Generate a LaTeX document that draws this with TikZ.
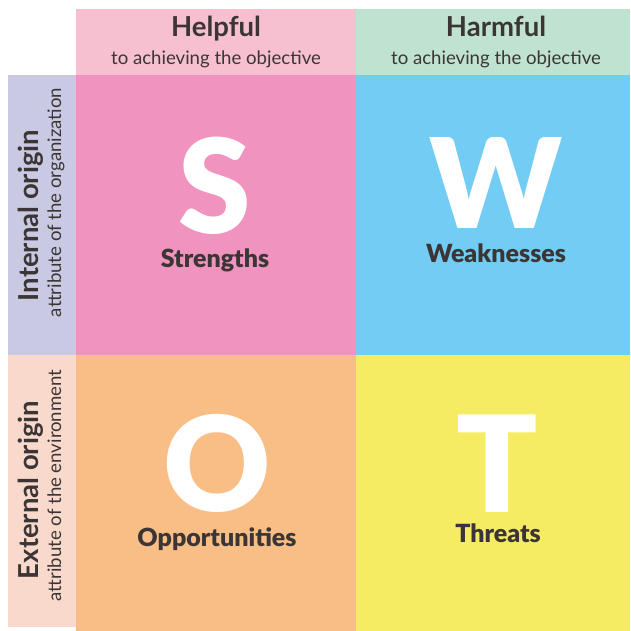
\documentclass[tikz,border=0pt]{standalone}
\usepackage{fontspec}
\setmainfont{Lato}
\newfontfamily\heavyfont{Lato}[UprightFont={* Black}]

% Palette
\definecolor{hdrpink}{HTML}{F6C0D0}
\definecolor{hdrgreen}{HTML}{C0E2D0}
\definecolor{sidelav}{HTML}{C9C9E3}
\definecolor{sidepeach}{HTML}{F9D9CB}
\definecolor{qpink}{HTML}{F093BF}
\definecolor{qblue}{HTML}{72CCF3}
\definecolor{qorange}{HTML}{F9BE86}
\definecolor{qyellow}{HTML}{F5EC63}
\definecolor{ink}{HTML}{3B3635}

\begin{document}
\begin{tikzpicture}[x=1pt,y=-1pt,
  cell/.style={anchor=north west, inner sep=0pt, outer sep=0pt, draw=none},
  bigletter/.style={anchor=base, inner sep=0pt, text=white, text depth=0pt,
    font=\fontsize{#1}{#1}\heavyfont},
  bigletter/.default=130,
  quadlabel/.style={anchor=base, inner sep=0pt, text=ink, text height=17pt,
    font=\fontsize{25}{26}\heavyfont},
  headtitle/.style={anchor=base, inner sep=0pt, text=ink,
    font=\fontsize{27.5}{28}\selectfont\bfseries},
  headsub/.style={anchor=base, inner sep=0pt, text=ink,
    font=\fontsize{18.6}{19}\selectfont},
]
\useasboundingbox (0,0) rectangle (630,631);

% Column headers
\node[cell, fill=hdrpink,  minimum width=280pt, minimum height=66pt] (helpbox) at (76,9) {};
\node[cell, fill=hdrgreen, minimum width=274pt, minimum height=66pt] (harmbox) at (356,9) {};

% Row headers
\node[cell, fill=sidelav,   minimum width=68pt, minimum height=280pt] (intbox) at (8,75) {};
\node[cell, fill=sidepeach, minimum width=68pt, minimum height=272pt] (extbox) at (8,355) {};

% Quadrants
\node[cell, fill=qpink,   minimum width=280pt, minimum height=280pt] (sbox) at (76,75) {};
\node[cell, fill=qblue,   minimum width=274pt, minimum height=280pt] (wbox) at (356,75) {};
\node[cell, fill=qorange, minimum width=280pt, minimum height=276pt] (obox) at (76,355) {};
\node[cell, fill=qyellow, minimum width=274pt, minimum height=276pt] (tbox) at (356,355) {};

% Header texts
\node[headtitle] (helpful) at (216,37) {Helpful};
\node[headsub]   (helpsub) at (216,65) {to achieving the objective};
\node[headtitle] (harmful) at (496,37) {Harmful};
\node[headsub]   (harmsub) at (496,65) {to achieving the objective};

% Side texts
\node[headtitle, rotate=90] (internal) at (38,215.5) {Internal origin};
\node[headsub,   rotate=90] (intsub)   at (61,202.5) {attribute of the organization};
\node[headtitle, rotate=90] (external) at (38,490) {External origin};
\node[headsub,   rotate=90] (extsub)   at (61,485.5) {attribute of the environment};

% Quadrant letters and labels
\node[bigletter=131] (sletter) at (215,233.5) {S};
\node[quadlabel] (strengths) at (215,267) {Strengths};
\node[bigletter=125] (wletter) at (496,228) {W};
\node[quadlabel] (weaknesses) at (496,262) {Weaknesses};
\node[bigletter=132] (oletter) at (217,511.5) {O};
\node[quadlabel] (opportunities) at (217,546) {Opportunities};
\node[bigletter=134] (tletter) at (497,512) {T};
\node[quadlabel] (threats) at (498,542) {Threats};
\end{tikzpicture}
\end{document}
